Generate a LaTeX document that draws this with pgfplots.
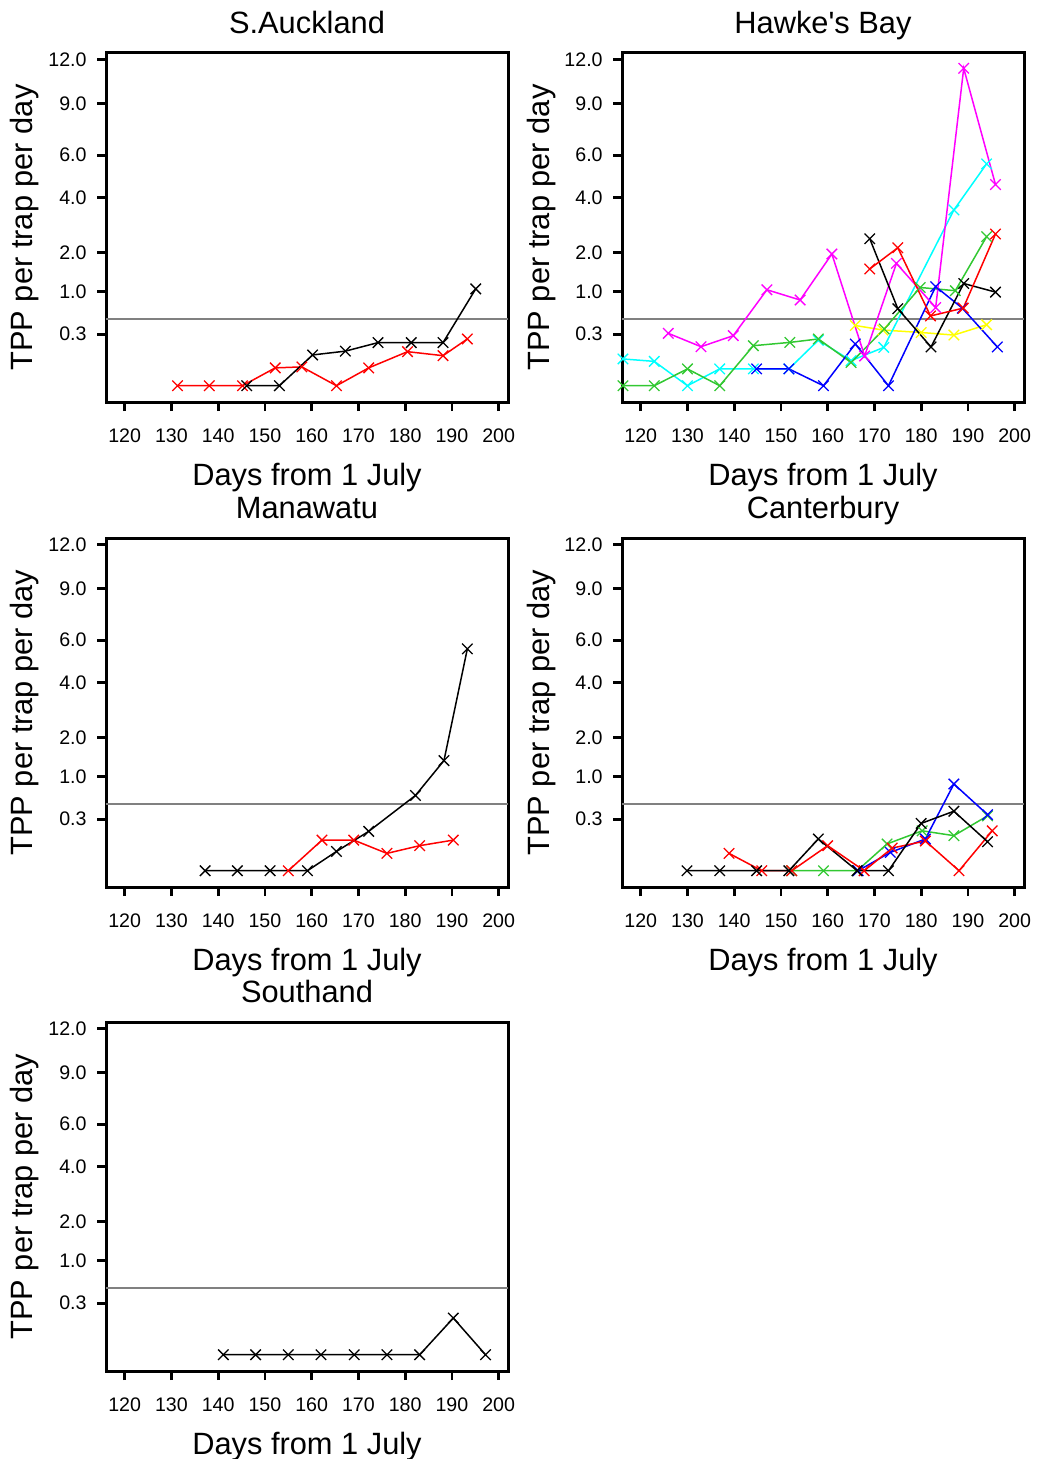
\documentclass[border=0pt]{standalone}
\usepackage{fontspec}
\setmainfont{Liberation Sans}
\usepackage{pgfplots}
\usepackage{pgfplotstable}
\pgfplotsset{compat=1.18}
\definecolor{mygreen}{RGB}{50,200,50}
\definecolor{mycyan}{RGB}{0,255,255}
\definecolor{myyellow}{RGB}{255,255,0}
\definecolor{mymagenta}{RGB}{255,0,255}
\definecolor{myblue}{RGB}{0,0,255}
\definecolor{myred}{RGB}{255,0,0}
\definecolor{mygray}{RGB}{128,128,128}

% S.Auckland
\pgfplotstableread{
d v
131.3 0
138.1 0
145.2 0
152.2 0.036
157.9 0.040
165.3 0
172.2 0.036
180.5 0.131
188.1 0.102
193.3 0.247
}\saRed
\pgfplotstableread{
d v
146.1 0
153.1 0
160.2 0.107
167.2 0.135
174.2 0.21
181.3 0.21
188.1 0.21
195.1 1.06
}\saBlack
% Hawke's Bay
\pgfplotstableread{
d v
116.2 0.081
122.9 0.067
130.0 0
136.9 0.032
144.1 0.032
151.7 0.032
158.0 0.234
165.0 0.071
172.0 0.166
187.0 3.49
194.0 5.56
}\hbCyan
\pgfplotstableread{
d v
116.2 0
122.9 0
130.0 0.032
136.9 0
144.1 0.181
151.9 0.212
158.0 0.247
165.0 0.061
172.1 0.364
179.8 1.09
187.3 1.02
194.0 2.51
}\hbGreen
\pgfplotstableread{
d v
125.9 0.31
132.9 0.172
139.8 0.283
147.0 1.04
154.1 0.83
160.9 1.96
167.9 0.10
174.7 1.69
183.1 0.69
189.1 11.38
195.9 4.57
}\hbMagenta
\pgfplotstableread{
d v
144.8 0.032
151.7 0.032
159.1 0
165.9 0.197
173.0 0
183.1 1.11
188.8 0.68
196.3 0.17
}\hbBlue
\pgfplotstableread{
d v
165.9 0.41
171.8 0.35
180.0 0.32
187.0 0.29
194.0 0.42
}\hbYellow
\pgfplotstableread{
d v
169.0 2.44
175.0 0.67
182.1 0.17
189.1 1.18
195.9 0.99
}\hbBlack
\pgfplotstableread{
d v
169.0 1.54
175.0 2.15
182.0 0.55
189.0 0.68
195.9 2.60
}\hbRed
% Manawatu
\pgfplotstableread{
d v
137.2 0
144.1 0
151.1 0
159.1 0
165.3 0.042
172.2 0.175
182.2 0.64
188.3 1.37
193.3 5.56
}\maBlack
\pgfplotstableread{
d v
155.0 0
162.2 0.106
169.0 0.106
176.1 0.034
183.1 0.071
190.3 0.106
}\maRed
% Canterbury
\pgfplotstableread{
d v
129.9 0
136.9 0
144.8 0
151.7 0
158.0 0.114
166.3 0
173.0 0
180.0 0.253
187.0 0.40
194.2 0.095
}\caBlack
\pgfplotstableread{
d v
138.9 0.034
145.9 0
152.3 0
160.0 0.071
167.8 0
173.8 0.058
180.9 0.10
188.1 0
195.2 0.18
}\caRed
\pgfplotstableread{
d v
152.3 0
159.1 0
166.3 0
172.7 0.081
180.2 0.18
187.0 0.139
194.2 0.34
}\caGreen
\pgfplotstableread{
d v
166.5 0
173.4 0.038
180.9 0.114
187.0 0.85
194.2 0.355
}\caBlue
% Southand
\pgfplotstableread{
d v
141.1 0
148.0 0
155.0 0
162.0 0
169.1 0
176.1 0
183.1 0
190.3 0.152
197.2 0
}\soBlack
\pgfplotstableread{
d v
116 0.5
202 0.5
}\threshold

\pgfplotsset{
  panel/.style={
    scale only axis, width=201pt, height=174.5pt,
    anchor=north west,
    xmin=116, xmax=202, ymin=-0.173, ymax=3.536,
    xtick={120,130,...,200},
    ytick={0.5477,1,1.4142,2,2.4495,3,3.4641},
    yticklabels={0.3,1.0,2.0,4.0,6.0,9.0,12.0},
    tick align=outside, xtick pos=bottom, ytick pos=left,
    major tick length=4.5pt,
    every tick/.style={black, line width=1.4pt},
    axis line style={line width=1.5pt},
    tick label style={font=\fontsize{9.8}{11}\selectfont},
    /pgf/number format/assume math mode=true,
    xticklabel style={inner sep=0pt, yshift=-8.5pt},
    yticklabel style={inner sep=0pt, xshift=-5pt},
    xlabel={Days from 1 July}, ylabel={TPP per trap per day},
    label style={font=\fontsize{15.4}{18}\selectfont},
    xlabel style={at={(axis description cs:0.5,-0.24)}, anchor=base},
    ylabel style={at={(axis description cs:-0.1816,0.5)}, anchor=base},
    every axis title/.style={font=\fontsize{15.4}{18}\selectfont, at={(axis description cs:0.5,1.057)}, anchor=base},
    clip=true,
  },
  ser/.style={color=#1, line width=0.75pt, mark=x, mark size=3.7pt, mark options={line width=0.65pt}},
  thr/.style={mygray, line width=0.75pt, no marks},
}

\begin{document}
\begin{tikzpicture}
\useasboundingbox (0,0) rectangle (519pt,-729.5pt);
% S.Auckland
\begin{axis}[panel, at={(53pt,-26.5pt)}, title={S.Auckland}]
\addplot[thr] table[x=d, y expr={sqrt(\thisrow{v})}] {\threshold};
\addplot[ser=myred] table[x=d, y expr={sqrt(\thisrow{v})}] {\saRed};
\addplot[ser=black] table[x=d, y expr={sqrt(\thisrow{v})}] {\saBlack};
\end{axis}
% Hawke's Bay
\begin{axis}[panel, at={(311pt,-26.5pt)}, title={Hawke\textquotesingle s Bay}]
\addplot[thr] table[x=d, y expr={sqrt(\thisrow{v})}] {\threshold};
\addplot[ser=myyellow] table[x=d, y expr={sqrt(\thisrow{v})}] {\hbYellow};
\addplot[ser=mycyan] table[x=d, y expr={sqrt(\thisrow{v})}] {\hbCyan};
\addplot[ser=mygreen] table[x=d, y expr={sqrt(\thisrow{v})}] {\hbGreen};
\addplot[ser=myblue] table[x=d, y expr={sqrt(\thisrow{v})}] {\hbBlue};
\addplot[ser=mymagenta] table[x=d, y expr={sqrt(\thisrow{v})}] {\hbMagenta};
\addplot[ser=black] table[x=d, y expr={sqrt(\thisrow{v})}] {\hbBlack};
\addplot[ser=myred] table[x=d, y expr={sqrt(\thisrow{v})}] {\hbRed};
\end{axis}
% Manawatu
\begin{axis}[panel, at={(53pt,-269pt)}, title={Manawatu}]
\addplot[thr] table[x=d, y expr={sqrt(\thisrow{v})}] {\threshold};
\addplot[ser=myred] table[x=d, y expr={sqrt(\thisrow{v})}] {\maRed};
\addplot[ser=black] table[x=d, y expr={sqrt(\thisrow{v})}] {\maBlack};
\end{axis}
% Canterbury
\begin{axis}[panel, at={(311pt,-269pt)}, title={Canterbury}]
\addplot[thr] table[x=d, y expr={sqrt(\thisrow{v})}] {\threshold};
\addplot[ser=mygreen] table[x=d, y expr={sqrt(\thisrow{v})}] {\caGreen};
\addplot[ser=myblue] table[x=d, y expr={sqrt(\thisrow{v})}] {\caBlue};
\addplot[ser=myred] table[x=d, y expr={sqrt(\thisrow{v})}] {\caRed};
\addplot[ser=black] table[x=d, y expr={sqrt(\thisrow{v})}] {\caBlack};
\end{axis}
% Southand
\begin{axis}[panel, at={(53pt,-511pt)}, title={Southand}]
\addplot[thr] table[x=d, y expr={sqrt(\thisrow{v})}] {\threshold};
\addplot[ser=black] table[x=d, y expr={sqrt(\thisrow{v})}] {\soBlack};
\end{axis}
\end{tikzpicture}
\end{document}
